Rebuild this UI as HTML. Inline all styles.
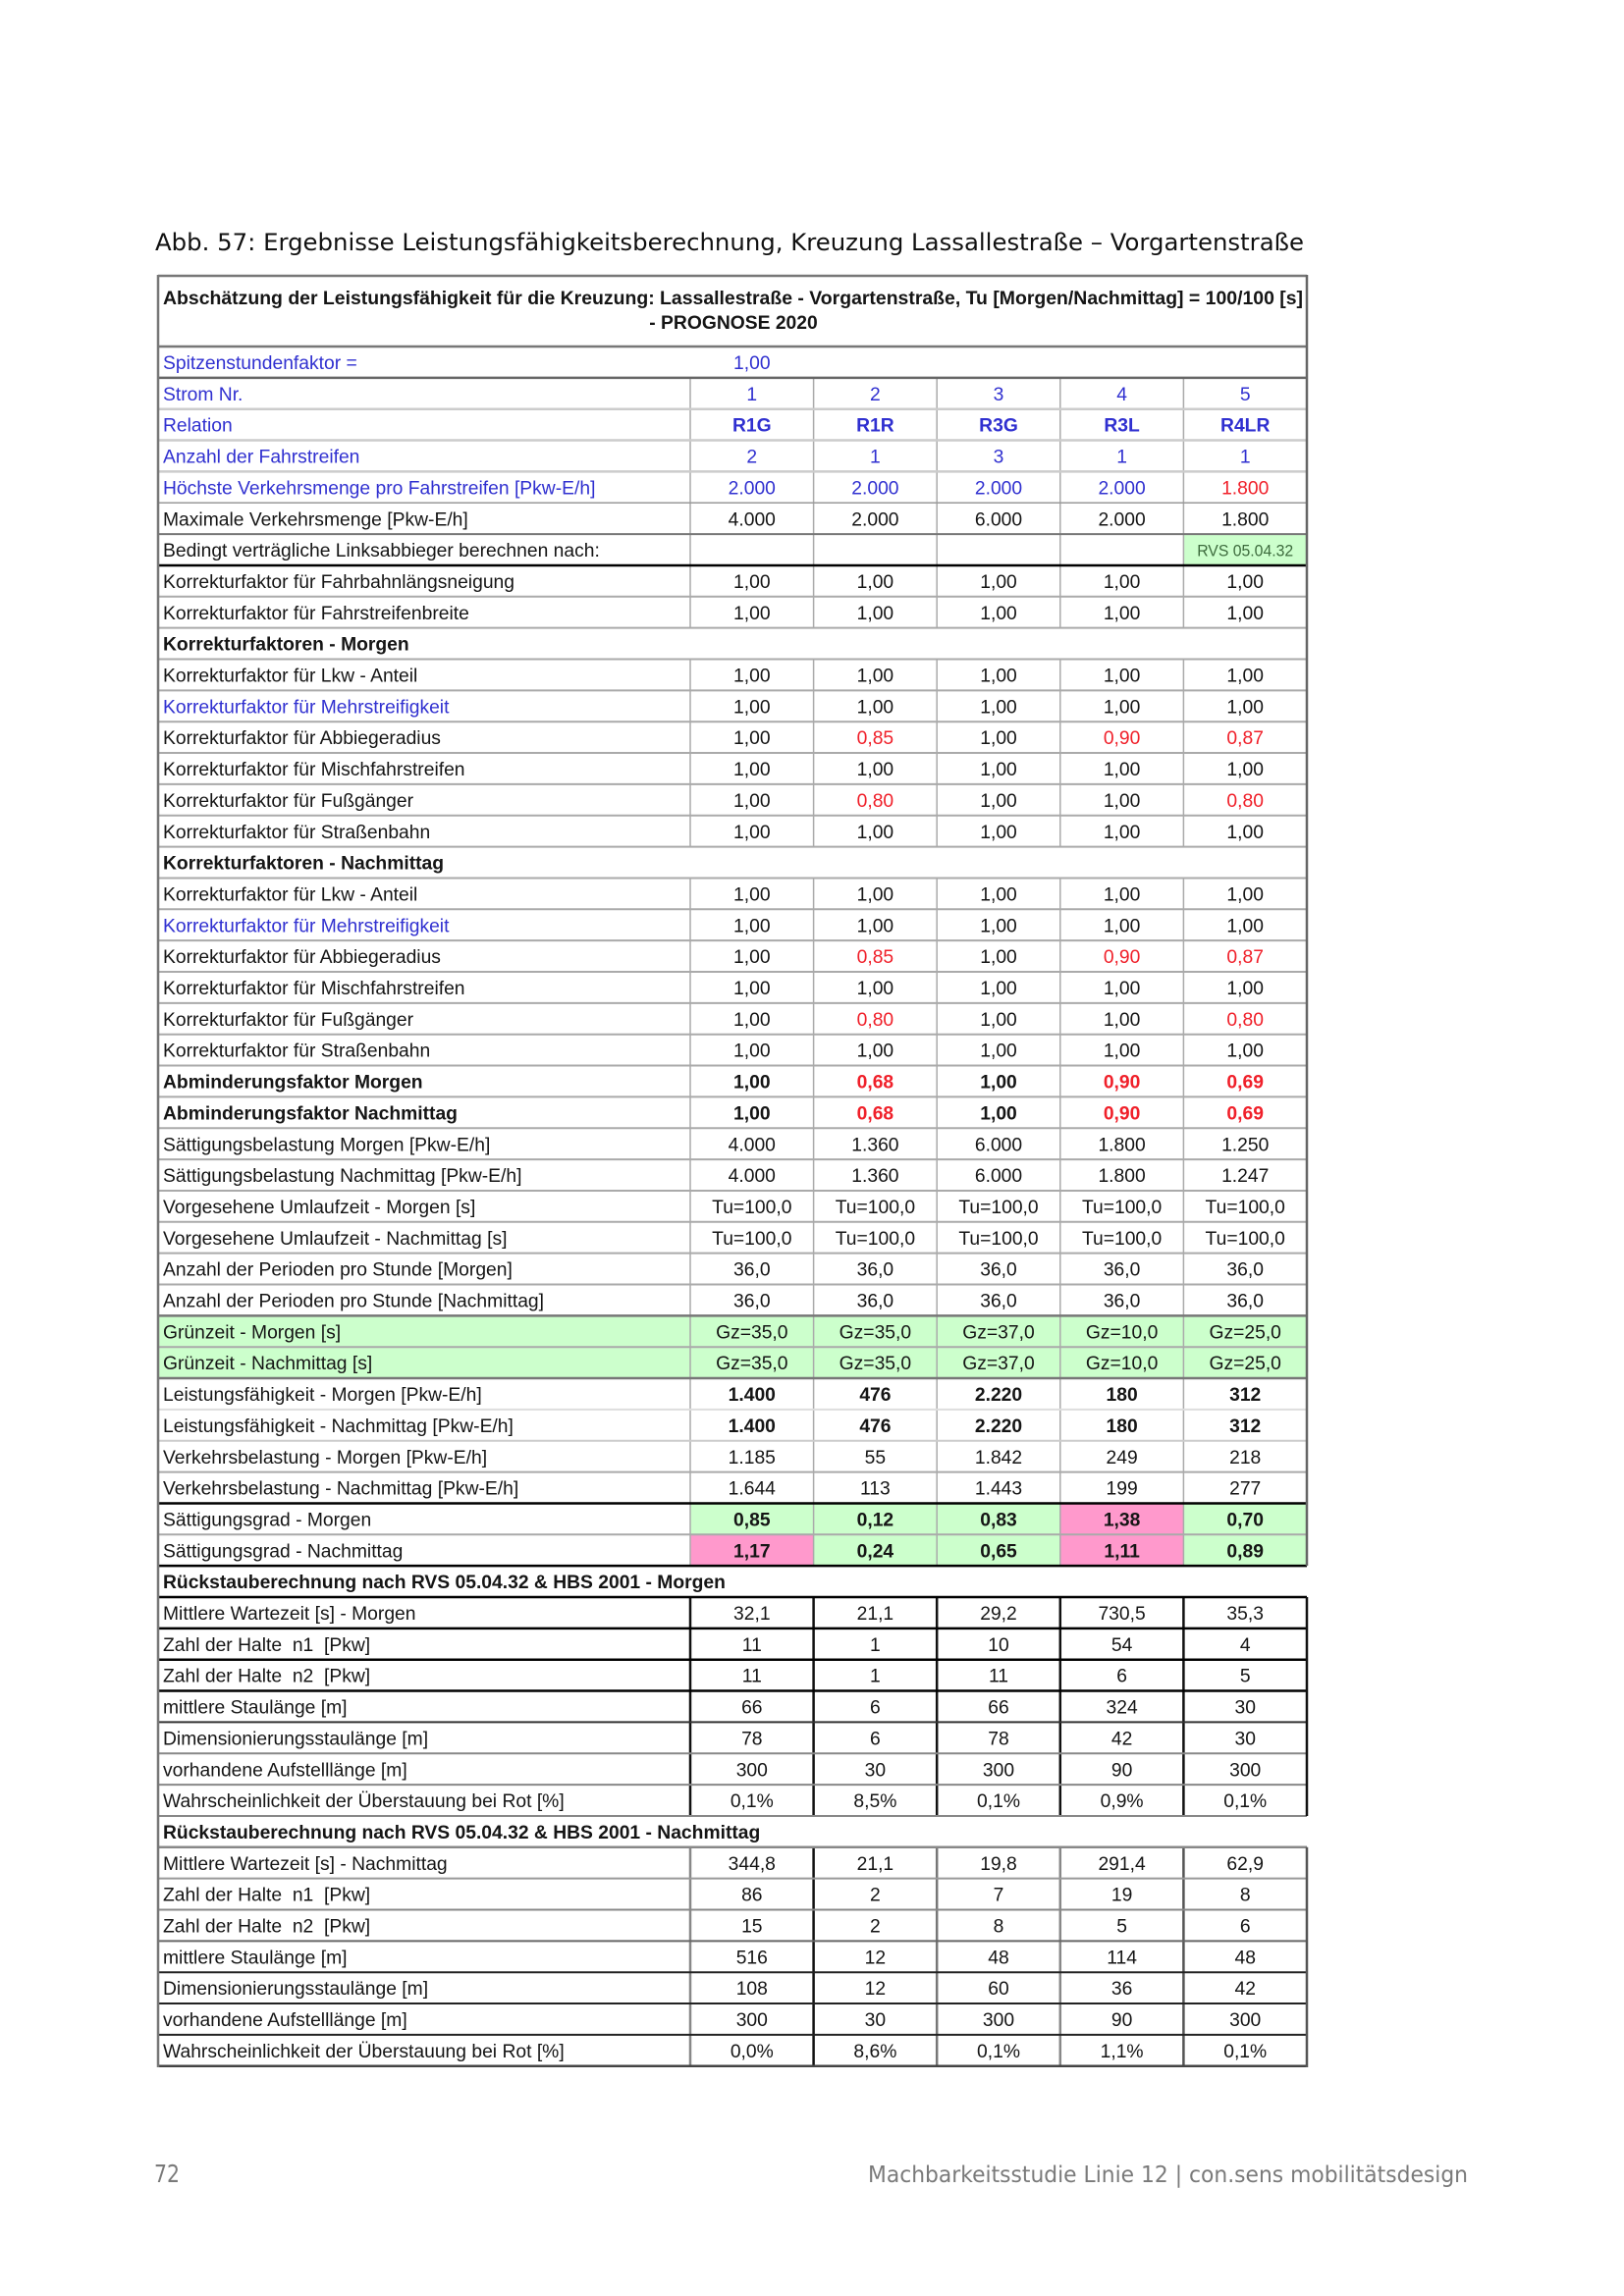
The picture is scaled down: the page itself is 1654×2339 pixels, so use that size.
<!DOCTYPE html>
<html><head><meta charset="utf-8">
<style>
html,body{margin:0;padding:0;background:#fff;}
svg{display:block;}
.t{font-family:"Liberation Sans",Arial,sans-serif;font-size:19.3px;fill:#151515;white-space:pre;}
.c{text-anchor:middle;}
.b{font-weight:bold;}
.bl{fill:#3030d0;}
.r{fill:#f0202a;}
.ti{font-family:"DejaVu Sans","Liberation Sans",sans-serif;font-size:24px;fill:#111;}
.ft{font-family:"DejaVu Sans","Liberation Sans",sans-serif;font-size:23px;fill:#7a7a7a;}
</style></head>
<body>
<svg width="1654" height="2339" viewBox="0 0 1654 2339" xmlns="http://www.w3.org/2000/svg">
<rect width="1654" height="2339" fill="#fff"/>

<!-- Title -->
<text class="ti" x="158" y="255" textLength="1170" lengthAdjust="spacingAndGlyphs">Abb. 57: Ergebnisse Leistungsfähigkeitsberechnung, Kreuzung Lassallestraße – Vorgartenstraße</text>

<!-- Backgrounds -->
<rect x="1205.4" y="544.1" width="125.6" height="31.85" fill="#ccffcc"/>
<rect x="161" y="1340.35" width="1170" height="63.7" fill="#ccffcc"/>
<rect x="703" y="1531.45" width="376.8" height="31.85" fill="#ccffcc"/>
<rect x="1079.8" y="1531.45" width="125.6" height="31.85" fill="#ff99cc"/>
<rect x="1205.4" y="1531.45" width="125.6" height="31.85" fill="#ccffcc"/>
<rect x="703" y="1563.3" width="125.6" height="31.85" fill="#ff99cc"/>
<rect x="828.6" y="1563.3" width="251.2" height="31.85" fill="#ccffcc"/>
<rect x="1079.8" y="1563.3" width="125.6" height="31.85" fill="#ff99cc"/>
<rect x="1205.4" y="1563.3" width="125.6" height="31.85" fill="#ccffcc"/>

<!-- Vertical column lines (main) -->
<g stroke="#aaa" stroke-width="1.5">
<line x1="703" y1="384.85" x2="703" y2="639.65"/><line x1="828.6" y1="384.85" x2="828.6" y2="639.65"/><line x1="954.2" y1="384.85" x2="954.2" y2="639.65"/><line x1="1079.8" y1="384.85" x2="1079.8" y2="639.65"/><line x1="1205.4" y1="384.85" x2="1205.4" y2="639.65"/>
<line x1="703" y1="671.5" x2="703" y2="862.6"/><line x1="828.6" y1="671.5" x2="828.6" y2="862.6"/><line x1="954.2" y1="671.5" x2="954.2" y2="862.6"/><line x1="1079.8" y1="671.5" x2="1079.8" y2="862.6"/><line x1="1205.4" y1="671.5" x2="1205.4" y2="862.6"/>
<line x1="703" y1="894.45" x2="703" y2="1595.15"/><line x1="828.6" y1="894.45" x2="828.6" y2="1595.15"/><line x1="954.2" y1="894.45" x2="954.2" y2="1595.15"/><line x1="1079.8" y1="894.45" x2="1079.8" y2="1595.15"/><line x1="1205.4" y1="894.45" x2="1205.4" y2="1595.15"/>
</g>
<!-- Rückstau Morgen vertical -->
<g stroke="#111" stroke-width="2.5">
<line x1="703" y1="1627" x2="703" y2="1849.95"/><line x1="828.6" y1="1627" x2="828.6" y2="1849.95"/><line x1="954.2" y1="1627" x2="954.2" y2="1849.95"/><line x1="1079.8" y1="1627" x2="1079.8" y2="1849.95"/><line x1="1205.4" y1="1627" x2="1205.4" y2="1849.95"/>
</g>
<!-- Rückstau Nachmittag vertical -->
<line x1="703" y1="1881.8" x2="703" y2="2104.75" stroke="#888" stroke-width="2.5"/>
<line x1="828.6" y1="1881.8" x2="828.6" y2="2104.75" stroke="#111" stroke-width="2.5"/>
<line x1="954.2" y1="1881.8" x2="954.2" y2="2104.75" stroke="#777" stroke-width="2.5"/>
<line x1="1079.8" y1="1881.8" x2="1079.8" y2="2104.75" stroke="#888" stroke-width="2.5"/>
<line x1="1205.4" y1="1881.8" x2="1205.4" y2="2104.75" stroke="#555" stroke-width="2.5"/>

<!-- Horizontal lines -->
<g stroke-width="2">
<line x1="161" x2="1331" y1="281" y2="281" stroke="#777" stroke-width="2.5"/>
<line x1="161" x2="1331" y1="353" y2="353" stroke="#777" stroke-width="2.5"/>
<line x1="161" x2="1331" y1="384.85" y2="384.85" stroke="#666" stroke-width="2.5"/>
<line x1="161" x2="1331" y1="416.7" y2="416.7" stroke="#ccc" stroke-width="2.5"/>
<line x1="161" x2="1331" y1="448.55" y2="448.55" stroke="#ccc" stroke-width="2.5"/>
<line x1="161" x2="1331" y1="480.4" y2="480.4" stroke="#ccc" stroke-width="2.5"/>
<line x1="161" x2="1331" y1="512.25" y2="512.25" stroke="#999" stroke-width="1.5"/>
<line x1="161" x2="1331" y1="544.1" y2="544.1" stroke="#777"/>
<line x1="161" x2="1331" y1="575.95" y2="575.95" stroke="#000" stroke-width="2.5"/>
<line x1="161" x2="1331" y1="607.8" y2="607.8" stroke="#aaa"/>
<line x1="161" x2="1331" y1="639.65" y2="639.65" stroke="#aaa"/>
<line x1="161" x2="1331" y1="671.5" y2="671.5" stroke="#aaa"/>
<line x1="161" x2="1331" y1="703.35" y2="703.35" stroke="#aaa"/>
<line x1="161" x2="1331" y1="735.2" y2="735.2" stroke="#aaa"/>
<line x1="161" x2="1331" y1="767.05" y2="767.05" stroke="#aaa"/>
<line x1="161" x2="1331" y1="798.9" y2="798.9" stroke="#aaa"/>
<line x1="161" x2="1331" y1="830.75" y2="830.75" stroke="#aaa"/>
<line x1="161" x2="1331" y1="862.6" y2="862.6" stroke="#aaa"/>
<line x1="161" x2="1331" y1="894.45" y2="894.45" stroke="#aaa"/>
<line x1="161" x2="1331" y1="926.3" y2="926.3" stroke="#aaa"/>
<line x1="161" x2="1331" y1="958.15" y2="958.15" stroke="#aaa"/>
<line x1="161" x2="1331" y1="990" y2="990" stroke="#aaa"/>
<line x1="161" x2="1331" y1="1021.85" y2="1021.85" stroke="#aaa"/>
<line x1="161" x2="1331" y1="1053.7" y2="1053.7" stroke="#aaa"/>
<line x1="161" x2="1331" y1="1085.55" y2="1085.55" stroke="#aaa"/>
<line x1="161" x2="1331" y1="1117.4" y2="1117.4" stroke="#aaa"/>
<line x1="161" x2="1331" y1="1149.25" y2="1149.25" stroke="#aaa"/>
<line x1="161" x2="1331" y1="1181.1" y2="1181.1" stroke="#aaa"/>
<line x1="161" x2="1331" y1="1212.95" y2="1212.95" stroke="#aaa"/>
<line x1="161" x2="1331" y1="1244.8" y2="1244.8" stroke="#aaa"/>
<line x1="161" x2="1331" y1="1276.65" y2="1276.65" stroke="#aaa"/>
<line x1="161" x2="1331" y1="1308.5" y2="1308.5" stroke="#aaa"/>
<line x1="161" x2="1331" y1="1340.35" y2="1340.35" stroke="#777" stroke-width="2.5"/>
<line x1="161" x2="1331" y1="1372.2" y2="1372.2" stroke="#aaa"/>
<line x1="161" x2="1331" y1="1404.05" y2="1404.05" stroke="#777" stroke-width="2.5"/>
<line x1="161" x2="1331" y1="1435.9" y2="1435.9" stroke="#ddd"/>
<line x1="161" x2="1331" y1="1467.75" y2="1467.75" stroke="#ccc"/>
<line x1="161" x2="1331" y1="1499.6" y2="1499.6" stroke="#aaa"/>
<line x1="161" x2="1331" y1="1531.45" y2="1531.45" stroke="#000" stroke-width="2.5"/>
<line x1="161" x2="1331" y1="1563.3" y2="1563.3" stroke="#aaa"/>
<line x1="161" x2="1331" y1="1595.15" y2="1595.15" stroke="#000" stroke-width="2.5"/>
<line x1="161" x2="1331" y1="1627" y2="1627" stroke="#000" stroke-width="2.5"/>
<line x1="161" x2="1331" y1="1658.85" y2="1658.85" stroke="#000" stroke-width="2.5"/>
<line x1="161" x2="1331" y1="1690.7" y2="1690.7" stroke="#000" stroke-width="2.5"/>
<line x1="161" x2="1331" y1="1722.55" y2="1722.55" stroke="#000" stroke-width="2.5"/>
<line x1="161" x2="1331" y1="1754.4" y2="1754.4" stroke="#333"/>
<line x1="161" x2="1331" y1="1786.25" y2="1786.25" stroke="#888"/>
<line x1="161" x2="1331" y1="1818.1" y2="1818.1" stroke="#888"/>
<line x1="161" x2="1331" y1="1849.95" y2="1849.95" stroke="#888"/>
<line x1="161" x2="1331" y1="1881.8" y2="1881.8" stroke="#888" stroke-width="2.5"/>
<line x1="161" x2="1331" y1="1913.65" y2="1913.65" stroke="#999"/>
<line x1="161" x2="1331" y1="1945.5" y2="1945.5" stroke="#888"/>
<line x1="161" x2="1331" y1="1977.35" y2="1977.35" stroke="#666"/>
<line x1="161" x2="1331" y1="2009.2" y2="2009.2" stroke="#222"/>
<line x1="161" x2="1331" y1="2041.05" y2="2041.05" stroke="#222"/>
<line x1="161" x2="1331" y1="2072.9" y2="2072.9" stroke="#222"/>
<line x1="161" x2="1331" y1="2104.75" y2="2104.75" stroke="#444" stroke-width="2.5"/>
</g>

<!-- Outer borders -->
<line x1="161" y1="280" x2="161" y2="2106" stroke="#777" stroke-width="2.5"/>
<line x1="1331" y1="280" x2="1331" y2="1595.15" stroke="#666" stroke-width="2.5"/>
<line x1="1331" y1="1627" x2="1331" y2="1849.95" stroke="#111" stroke-width="2.5"/>
<line x1="1331" y1="1881.8" x2="1331" y2="2106" stroke="#555" stroke-width="2.5"/>

<!-- Header -->
<text class="t b" x="166" y="310" textLength="1161" lengthAdjust="spacingAndGlyphs">Abschätzung der Leistungsfähigkeit für die Kreuzung: Lassallestraße - Vorgartenstraße, Tu [Morgen/Nachmittag] = 100/100 [s]</text>
<text class="t b c" x="747" y="335">- PROGNOSE 2020</text>

<!-- Labels -->
<g class="t">
<text x="166" y="376" class="t bl">Spitzenstundenfaktor =</text>
<text x="166" y="407.85" class="t bl">Strom Nr.</text>
<text x="166" y="439.7" class="t bl">Relation</text>
<text x="166" y="471.55" class="t bl">Anzahl der Fahrstreifen</text>
<text x="166" y="503.4" class="t bl">Höchste Verkehrsmenge pro Fahrstreifen [Pkw-E/h]</text>
<text x="166" y="535.25" class="t">Maximale Verkehrsmenge [Pkw-E/h]</text>
<text x="166" y="567.1" class="t">Bedingt verträgliche Linksabbieger berechnen nach:</text>
<text x="166" y="598.95" class="t">Korrekturfaktor für Fahrbahnlängsneigung</text>
<text x="166" y="630.8" class="t">Korrekturfaktor für Fahrstreifenbreite</text>
<text x="166" y="662.65" class="t b">Korrekturfaktoren - Morgen</text>
<text x="166" y="694.5" class="t">Korrekturfaktor für Lkw - Anteil</text>
<text x="166" y="726.35" class="t bl">Korrekturfaktor für Mehrstreifigkeit</text>
<text x="166" y="758.2" class="t">Korrekturfaktor für Abbiegeradius</text>
<text x="166" y="790.05" class="t">Korrekturfaktor für Mischfahrstreifen</text>
<text x="166" y="821.9" class="t">Korrekturfaktor für Fußgänger</text>
<text x="166" y="853.75" class="t">Korrekturfaktor für Straßenbahn</text>
<text x="166" y="885.6" class="t b">Korrekturfaktoren - Nachmittag</text>
<text x="166" y="917.45" class="t">Korrekturfaktor für Lkw - Anteil</text>
<text x="166" y="949.3" class="t bl">Korrekturfaktor für Mehrstreifigkeit</text>
<text x="166" y="981.15" class="t">Korrekturfaktor für Abbiegeradius</text>
<text x="166" y="1013" class="t">Korrekturfaktor für Mischfahrstreifen</text>
<text x="166" y="1044.85" class="t">Korrekturfaktor für Fußgänger</text>
<text x="166" y="1076.7" class="t">Korrekturfaktor für Straßenbahn</text>
<text x="166" y="1108.55" class="t b">Abminderungsfaktor Morgen</text>
<text x="166" y="1140.4" class="t b">Abminderungsfaktor Nachmittag</text>
<text x="166" y="1172.25" class="t">Sättigungsbelastung Morgen [Pkw-E/h]</text>
<text x="166" y="1204.1" class="t">Sättigungsbelastung Nachmittag [Pkw-E/h]</text>
<text x="166" y="1235.95" class="t">Vorgesehene Umlaufzeit - Morgen [s]</text>
<text x="166" y="1267.8" class="t">Vorgesehene Umlaufzeit - Nachmittag [s]</text>
<text x="166" y="1299.65" class="t">Anzahl der Perioden pro Stunde [Morgen]</text>
<text x="166" y="1331.5" class="t">Anzahl der Perioden pro Stunde [Nachmittag]</text>
<text x="166" y="1363.35" class="t">Grünzeit - Morgen [s]</text>
<text x="166" y="1395.2" class="t">Grünzeit - Nachmittag [s]</text>
<text x="166" y="1427.05" class="t">Leistungsfähigkeit - Morgen [Pkw-E/h]</text>
<text x="166" y="1458.9" class="t">Leistungsfähigkeit - Nachmittag [Pkw-E/h]</text>
<text x="166" y="1490.75" class="t">Verkehrsbelastung - Morgen [Pkw-E/h]</text>
<text x="166" y="1522.6" class="t">Verkehrsbelastung - Nachmittag [Pkw-E/h]</text>
<text x="166" y="1554.45" class="t">Sättigungsgrad - Morgen</text>
<text x="166" y="1586.3" class="t">Sättigungsgrad - Nachmittag</text>
<text x="166" y="1618.15" class="t b">Rückstauberechnung nach RVS 05.04.32 &amp; HBS 2001 - Morgen</text>
<text x="166" y="1650" class="t">Mittlere Wartezeit [s] - Morgen</text>
<text x="166" y="1681.85" class="t">Zahl der Halte  n1  [Pkw]</text>
<text x="166" y="1713.7" class="t">Zahl der Halte  n2  [Pkw]</text>
<text x="166" y="1745.55" class="t">mittlere Staulänge [m]</text>
<text x="166" y="1777.4" class="t">Dimensionierungsstaulänge [m]</text>
<text x="166" y="1809.25" class="t">vorhandene Aufstelllänge [m]</text>
<text x="166" y="1841.1" class="t">Wahrscheinlichkeit der Überstauung bei Rot [%]</text>
<text x="166" y="1872.95" class="t b">Rückstauberechnung nach RVS 05.04.32 &amp; HBS 2001 - Nachmittag</text>
<text x="166" y="1904.8" class="t">Mittlere Wartezeit [s] - Nachmittag</text>
<text x="166" y="1936.65" class="t">Zahl der Halte  n1  [Pkw]</text>
<text x="166" y="1968.5" class="t">Zahl der Halte  n2  [Pkw]</text>
<text x="166" y="2000.35" class="t">mittlere Staulänge [m]</text>
<text x="166" y="2032.2" class="t">Dimensionierungsstaulänge [m]</text>
<text x="166" y="2064.05" class="t">vorhandene Aufstelllänge [m]</text>
<text x="166" y="2095.9" class="t">Wahrscheinlichkeit der Überstauung bei Rot [%]</text>
</g>

<!-- Values -->
<text class="t c bl" y="376"><tspan x="765.8">1,00</tspan></text>
<text class="t c bl" y="407.85"><tspan x="765.8">1</tspan><tspan x="891.4">2</tspan><tspan x="1017">3</tspan><tspan x="1142.6">4</tspan><tspan x="1268.2">5</tspan></text>
<text class="t c bl b" y="439.7"><tspan x="765.8">R1G</tspan><tspan x="891.4">R1R</tspan><tspan x="1017">R3G</tspan><tspan x="1142.6">R3L</tspan><tspan x="1268.2">R4LR</tspan></text>
<text class="t c bl" y="471.55"><tspan x="765.8">2</tspan><tspan x="891.4">1</tspan><tspan x="1017">3</tspan><tspan x="1142.6">1</tspan><tspan x="1268.2">1</tspan></text>
<text class="t c bl" y="503.4"><tspan x="765.8">2.000</tspan><tspan x="891.4">2.000</tspan><tspan x="1017">2.000</tspan><tspan x="1142.6">2.000</tspan><tspan x="1268.2" class="r">1.800</tspan></text>
<text class="t c" y="535.25"><tspan x="765.8">4.000</tspan><tspan x="891.4">2.000</tspan><tspan x="1017">6.000</tspan><tspan x="1142.6">2.000</tspan><tspan x="1268.2">1.800</tspan></text>
<text x="1268.2" y="566.5" text-anchor="middle" style="font-family:'Liberation Sans',Arial,sans-serif;font-size:16.5px;fill:#3d6b3d;" textLength="98" lengthAdjust="spacingAndGlyphs">RVS 05.04.32</text>
<text class="t c" y="598.95"><tspan x="765.8">1,00</tspan><tspan x="891.4">1,00</tspan><tspan x="1017">1,00</tspan><tspan x="1142.6">1,00</tspan><tspan x="1268.2">1,00</tspan></text>
<text class="t c" y="630.8"><tspan x="765.8">1,00</tspan><tspan x="891.4">1,00</tspan><tspan x="1017">1,00</tspan><tspan x="1142.6">1,00</tspan><tspan x="1268.2">1,00</tspan></text>

<text class="t c" y="694.5"><tspan x="765.8">1,00</tspan><tspan x="891.4">1,00</tspan><tspan x="1017">1,00</tspan><tspan x="1142.6">1,00</tspan><tspan x="1268.2">1,00</tspan></text>
<text class="t c" y="726.35"><tspan x="765.8">1,00</tspan><tspan x="891.4">1,00</tspan><tspan x="1017">1,00</tspan><tspan x="1142.6">1,00</tspan><tspan x="1268.2">1,00</tspan></text>
<text class="t c" y="758.2"><tspan x="765.8">1,00</tspan><tspan x="891.4" class="r">0,85</tspan><tspan x="1017">1,00</tspan><tspan x="1142.6" class="r">0,90</tspan><tspan x="1268.2" class="r">0,87</tspan></text>
<text class="t c" y="790.05"><tspan x="765.8">1,00</tspan><tspan x="891.4">1,00</tspan><tspan x="1017">1,00</tspan><tspan x="1142.6">1,00</tspan><tspan x="1268.2">1,00</tspan></text>
<text class="t c" y="821.9"><tspan x="765.8">1,00</tspan><tspan x="891.4" class="r">0,80</tspan><tspan x="1017">1,00</tspan><tspan x="1142.6">1,00</tspan><tspan x="1268.2" class="r">0,80</tspan></text>
<text class="t c" y="853.75"><tspan x="765.8">1,00</tspan><tspan x="891.4">1,00</tspan><tspan x="1017">1,00</tspan><tspan x="1142.6">1,00</tspan><tspan x="1268.2">1,00</tspan></text>

<text class="t c" y="917.45"><tspan x="765.8">1,00</tspan><tspan x="891.4">1,00</tspan><tspan x="1017">1,00</tspan><tspan x="1142.6">1,00</tspan><tspan x="1268.2">1,00</tspan></text>
<text class="t c" y="949.3"><tspan x="765.8">1,00</tspan><tspan x="891.4">1,00</tspan><tspan x="1017">1,00</tspan><tspan x="1142.6">1,00</tspan><tspan x="1268.2">1,00</tspan></text>
<text class="t c" y="981.15"><tspan x="765.8">1,00</tspan><tspan x="891.4" class="r">0,85</tspan><tspan x="1017">1,00</tspan><tspan x="1142.6" class="r">0,90</tspan><tspan x="1268.2" class="r">0,87</tspan></text>
<text class="t c" y="1013"><tspan x="765.8">1,00</tspan><tspan x="891.4">1,00</tspan><tspan x="1017">1,00</tspan><tspan x="1142.6">1,00</tspan><tspan x="1268.2">1,00</tspan></text>
<text class="t c" y="1044.85"><tspan x="765.8">1,00</tspan><tspan x="891.4" class="r">0,80</tspan><tspan x="1017">1,00</tspan><tspan x="1142.6">1,00</tspan><tspan x="1268.2" class="r">0,80</tspan></text>
<text class="t c" y="1076.7"><tspan x="765.8">1,00</tspan><tspan x="891.4">1,00</tspan><tspan x="1017">1,00</tspan><tspan x="1142.6">1,00</tspan><tspan x="1268.2">1,00</tspan></text>

<text class="t c b" y="1108.55"><tspan x="765.8">1,00</tspan><tspan x="891.4" class="r">0,68</tspan><tspan x="1017">1,00</tspan><tspan x="1142.6" class="r">0,90</tspan><tspan x="1268.2" class="r">0,69</tspan></text>
<text class="t c b" y="1140.4"><tspan x="765.8">1,00</tspan><tspan x="891.4" class="r">0,68</tspan><tspan x="1017">1,00</tspan><tspan x="1142.6" class="r">0,90</tspan><tspan x="1268.2" class="r">0,69</tspan></text>
<text class="t c" y="1172.25"><tspan x="765.8">4.000</tspan><tspan x="891.4">1.360</tspan><tspan x="1017">6.000</tspan><tspan x="1142.6">1.800</tspan><tspan x="1268.2">1.250</tspan></text>
<text class="t c" y="1204.1"><tspan x="765.8">4.000</tspan><tspan x="891.4">1.360</tspan><tspan x="1017">6.000</tspan><tspan x="1142.6">1.800</tspan><tspan x="1268.2">1.247</tspan></text>
<text class="t c" y="1235.95"><tspan x="765.8">Tu=100,0</tspan><tspan x="891.4">Tu=100,0</tspan><tspan x="1017">Tu=100,0</tspan><tspan x="1142.6">Tu=100,0</tspan><tspan x="1268.2">Tu=100,0</tspan></text>
<text class="t c" y="1267.8"><tspan x="765.8">Tu=100,0</tspan><tspan x="891.4">Tu=100,0</tspan><tspan x="1017">Tu=100,0</tspan><tspan x="1142.6">Tu=100,0</tspan><tspan x="1268.2">Tu=100,0</tspan></text>
<text class="t c" y="1299.65"><tspan x="765.8">36,0</tspan><tspan x="891.4">36,0</tspan><tspan x="1017">36,0</tspan><tspan x="1142.6">36,0</tspan><tspan x="1268.2">36,0</tspan></text>
<text class="t c" y="1331.5"><tspan x="765.8">36,0</tspan><tspan x="891.4">36,0</tspan><tspan x="1017">36,0</tspan><tspan x="1142.6">36,0</tspan><tspan x="1268.2">36,0</tspan></text>
<text class="t c" y="1363.35"><tspan x="765.8">Gz=35,0</tspan><tspan x="891.4">Gz=35,0</tspan><tspan x="1017">Gz=37,0</tspan><tspan x="1142.6">Gz=10,0</tspan><tspan x="1268.2">Gz=25,0</tspan></text>
<text class="t c" y="1395.2"><tspan x="765.8">Gz=35,0</tspan><tspan x="891.4">Gz=35,0</tspan><tspan x="1017">Gz=37,0</tspan><tspan x="1142.6">Gz=10,0</tspan><tspan x="1268.2">Gz=25,0</tspan></text>
<text class="t c b" y="1427.05"><tspan x="765.8">1.400</tspan><tspan x="891.4">476</tspan><tspan x="1017">2.220</tspan><tspan x="1142.6">180</tspan><tspan x="1268.2">312</tspan></text>
<text class="t c b" y="1458.9"><tspan x="765.8">1.400</tspan><tspan x="891.4">476</tspan><tspan x="1017">2.220</tspan><tspan x="1142.6">180</tspan><tspan x="1268.2">312</tspan></text>
<text class="t c" y="1490.75"><tspan x="765.8">1.185</tspan><tspan x="891.4">55</tspan><tspan x="1017">1.842</tspan><tspan x="1142.6">249</tspan><tspan x="1268.2">218</tspan></text>
<text class="t c" y="1522.6"><tspan x="765.8">1.644</tspan><tspan x="891.4">113</tspan><tspan x="1017">1.443</tspan><tspan x="1142.6">199</tspan><tspan x="1268.2">277</tspan></text>
<text class="t c b" y="1554.45"><tspan x="765.8">0,85</tspan><tspan x="891.4">0,12</tspan><tspan x="1017">0,83</tspan><tspan x="1142.6">1,38</tspan><tspan x="1268.2">0,70</tspan></text>
<text class="t c b" y="1586.3"><tspan x="765.8">1,17</tspan><tspan x="891.4">0,24</tspan><tspan x="1017">0,65</tspan><tspan x="1142.6">1,11</tspan><tspan x="1268.2">0,89</tspan></text>

<text class="t c" y="1650"><tspan x="765.8">32,1</tspan><tspan x="891.4">21,1</tspan><tspan x="1017">29,2</tspan><tspan x="1142.6">730,5</tspan><tspan x="1268.2">35,3</tspan></text>
<text class="t c" y="1681.85"><tspan x="765.8">11</tspan><tspan x="891.4">1</tspan><tspan x="1017">10</tspan><tspan x="1142.6">54</tspan><tspan x="1268.2">4</tspan></text>
<text class="t c" y="1713.7"><tspan x="765.8">11</tspan><tspan x="891.4">1</tspan><tspan x="1017">11</tspan><tspan x="1142.6">6</tspan><tspan x="1268.2">5</tspan></text>
<text class="t c" y="1745.55"><tspan x="765.8">66</tspan><tspan x="891.4">6</tspan><tspan x="1017">66</tspan><tspan x="1142.6">324</tspan><tspan x="1268.2">30</tspan></text>
<text class="t c" y="1777.4"><tspan x="765.8">78</tspan><tspan x="891.4">6</tspan><tspan x="1017">78</tspan><tspan x="1142.6">42</tspan><tspan x="1268.2">30</tspan></text>
<text class="t c" y="1809.25"><tspan x="765.8">300</tspan><tspan x="891.4">30</tspan><tspan x="1017">300</tspan><tspan x="1142.6">90</tspan><tspan x="1268.2">300</tspan></text>
<text class="t c" y="1841.1"><tspan x="765.8">0,1%</tspan><tspan x="891.4">8,5%</tspan><tspan x="1017">0,1%</tspan><tspan x="1142.6">0,9%</tspan><tspan x="1268.2">0,1%</tspan></text>

<text class="t c" y="1904.8"><tspan x="765.8">344,8</tspan><tspan x="891.4">21,1</tspan><tspan x="1017">19,8</tspan><tspan x="1142.6">291,4</tspan><tspan x="1268.2">62,9</tspan></text>
<text class="t c" y="1936.65"><tspan x="765.8">86</tspan><tspan x="891.4">2</tspan><tspan x="1017">7</tspan><tspan x="1142.6">19</tspan><tspan x="1268.2">8</tspan></text>
<text class="t c" y="1968.5"><tspan x="765.8">15</tspan><tspan x="891.4">2</tspan><tspan x="1017">8</tspan><tspan x="1142.6">5</tspan><tspan x="1268.2">6</tspan></text>
<text class="t c" y="2000.35"><tspan x="765.8">516</tspan><tspan x="891.4">12</tspan><tspan x="1017">48</tspan><tspan x="1142.6">114</tspan><tspan x="1268.2">48</tspan></text>
<text class="t c" y="2032.2"><tspan x="765.8">108</tspan><tspan x="891.4">12</tspan><tspan x="1017">60</tspan><tspan x="1142.6">36</tspan><tspan x="1268.2">42</tspan></text>
<text class="t c" y="2064.05"><tspan x="765.8">300</tspan><tspan x="891.4">30</tspan><tspan x="1017">300</tspan><tspan x="1142.6">90</tspan><tspan x="1268.2">300</tspan></text>
<text class="t c" y="2095.9"><tspan x="765.8">0,0%</tspan><tspan x="891.4">8,6%</tspan><tspan x="1017">0,1%</tspan><tspan x="1142.6">1,1%</tspan><tspan x="1268.2">0,1%</tspan></text>

<!-- Footer -->
<text class="ft" x="157" y="2223" style="font-size:25px" textLength="26" lengthAdjust="spacingAndGlyphs">72</text>
<text class="ft" x="884" y="2223" textLength="611" lengthAdjust="spacingAndGlyphs">Machbarkeitsstudie Linie 12 | con.sens mobilitätsdesign</text>
</svg>
</body></html>
